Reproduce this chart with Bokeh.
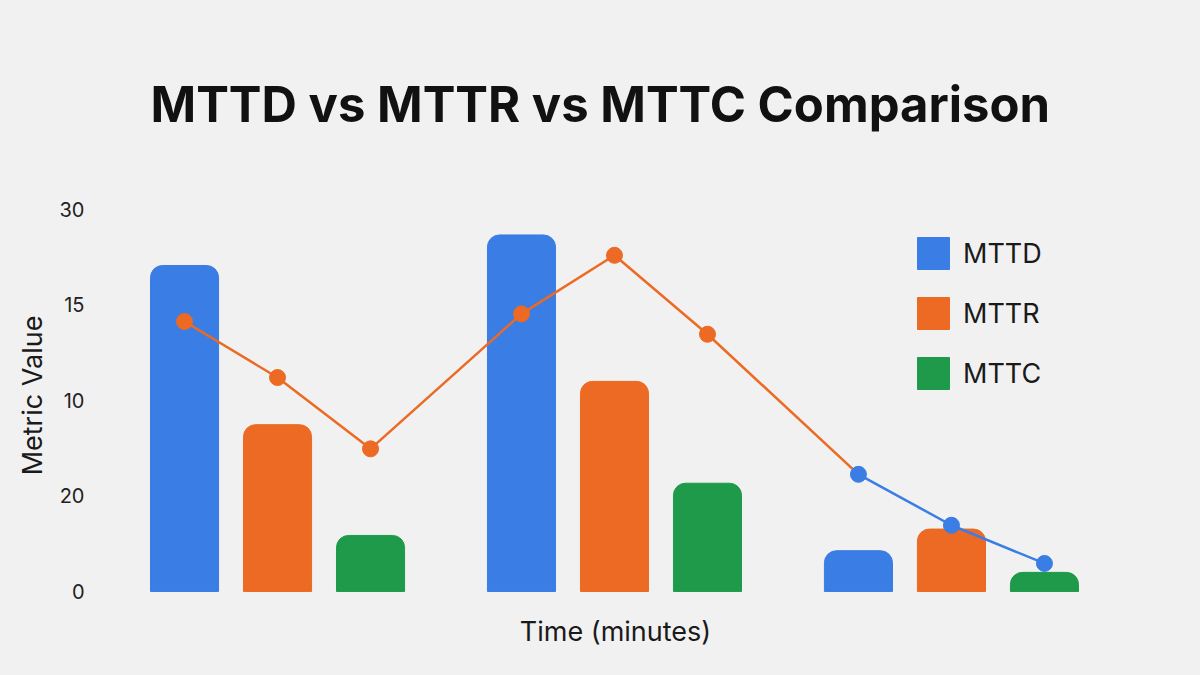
from bokeh.plotting import figure
from bokeh.models import FixedTicker, Legend, LegendItem
from bokeh.embed import file_html
from bokeh.resources import INLINE

# data (axis value units, 0..30)
groups = ["Incident 1", "Incident 2", "Incident 3"]
mttd = [25.6, 28.0, 3.2]
mttr = [13.1, 16.5, 4.9]
mttc = [4.4, 8.5, 1.5]
trend = [21.2, 16.8, 11.2, 21.8, 26.4, 20.2, 9.2, 5.2, 2.2]
y_ticks = [0, 7.5, 15, 22.5, 30]
y_tick_labels = ["0", "20", "10", "15", "30"]

BLUE = "#3a7de4"
ORANGE = "#ec6a24"
GREEN = "#1f9a4a"
BG = "#f1f1f1"
FONT = "Inter"

offset = 0.276
width = 0.202
gx = list(range(len(groups)))

p = figure(width=1184, height=659, output_backend="svg", toolbar_location=None,
           x_range=(-0.466, 2.472), y_range=(-0.71, 31.49),
           min_border_left=120, min_border_right=74, min_border_top=190, min_border_bottom=59,
           background_fill_color=None, border_fill_color=BG, outline_line_color=None)

p.title.text = "MTTD vs MTTR vs MTTC Comparison"
p.title.text_font = FONT
p.title.text_font_size = "49px"
p.title.text_font_style = "bold"
p.title.text_color = "#111111"
p.title.align = "left"
p.title.offset = 30
p.title.standoff = 113

radius = [12, 12, 0, 0]
r_d = p.vbar(x=[g - offset for g in gx], top=mttd, width=width, color=BLUE, border_radius=radius)
r_r = p.vbar(x=gx, top=mttr, width=width, color=ORANGE, border_radius=radius)
r_c = p.vbar(x=[g + offset for g in gx], top=mttc, width=width, color=GREEN, border_radius=radius)

# trend line across all bar positions
tx = []
for g in gx:
    tx += [g - offset, g, g + offset]
p.line(tx[:7], trend[:7], line_color=ORANGE, line_width=2.5)
p.line(tx[6:], trend[6:], line_color=BLUE, line_width=2.5)
p.scatter(tx[:6], trend[:6], size=16, color=ORANGE)
p.scatter(tx[6:], trend[6:], size=16, color=BLUE)

p.xgrid.visible = False
p.ygrid.visible = False

p.yaxis.ticker = FixedTicker(ticks=y_ticks)
p.yaxis.major_label_overrides = {t: s for t, s in zip(y_ticks, y_tick_labels)}
p.xaxis.ticker = FixedTicker(ticks=[])
p.yaxis.axis_label = "Metric Value"
p.xaxis.axis_label = "Time (minutes)"
for ax in (p.xaxis, p.yaxis):
    ax.axis_line_color = None
    ax.major_tick_line_color = None
    ax.minor_tick_line_color = None
    ax.axis_label_text_font = FONT
    ax.axis_label_text_font_size = "27px"
    ax.axis_label_text_font_style = "normal"
    ax.axis_label_text_color = "#1a1a1a"
    ax.major_label_text_font = FONT
    ax.major_label_text_font_size = "20px"
    ax.major_label_text_color = "#222222"
p.xaxis.axis_label_standoff = 14
p.yaxis.axis_label_standoff = 8
p.yaxis.major_label_standoff = 30

legend = Legend(items=[LegendItem(label="MTTD", renderers=[r_d]),
                       LegendItem(label="MTTR", renderers=[r_r]),
                       LegendItem(label="MTTC", renderers=[r_c])],
                location=(793, 207), glyph_width=40, glyph_height=40,
                spacing=20, padding=0, margin=0, label_standoff=10,
                label_text_font=FONT, label_text_font_size="27px",
                label_text_color="#1a1a1a",
                border_line_color=None, background_fill_alpha=0)
p.add_layout(legend, "center")

html = file_html(p, INLINE)
html = html.replace("</head>", "<style>html, body {background: %s;}</style></head>" % BG, 1)
open("out.html", "w").write(html)
